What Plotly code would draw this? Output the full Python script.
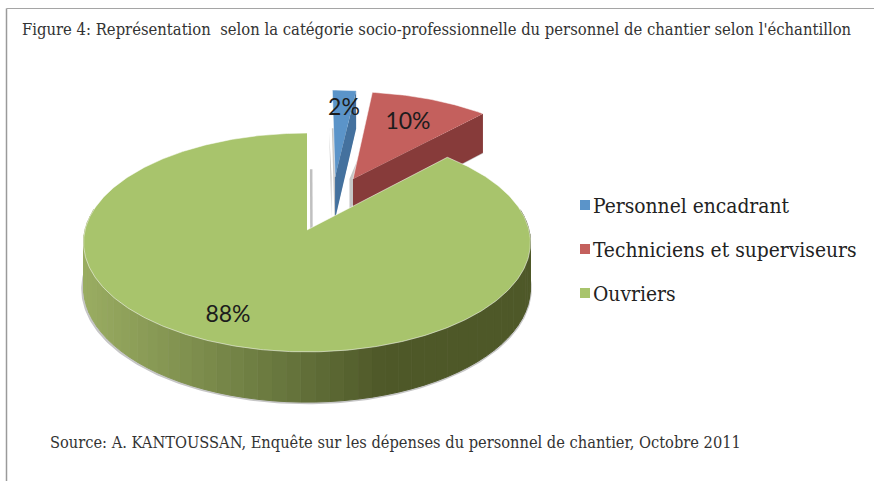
import numpy as np
import plotly.graph_objects as go

categories = ["Personnel encadrant", "Techniciens et superviseurs", "Ouvriers"]
values = [2, 10, 88]
top_colors = ["#5b94c9", "#c4605d", "#a8c46c"]
wall_colors = ["#44719e", "#873b3a", None]
explode_uv = [(0.134, 0.52), (0.219, 0.499), (0.0, 0.0)]
label_xy = [(344, 109), (408, 123), (228, 316)]
legend_y = [205, 249, 293]

title = "Figure 4: Représentation  selon la catégorie socio-professionnelle du personnel de chantier selon l'échantillon"
source = "Source: A. KANTOUSSAN, Enquête sur les dépenses du personnel de chantier, Octobre 2011"

# projection of the pie disk onto the picture
CX, CY, AX, BY, K, H = 307.0, 230.0, 222.0, 108.0, 0.114, 44.5


def project(u, v, base=False):
    u, v = np.asarray(u, float), np.asarray(v, float)
    s = 1 / (1 + K * v)
    return CX + AX * u * s, CY - BY * v * s + (H * s if base else 0)


def mix(c1, c2, t):
    return "rgb(%d,%d,%d)" % tuple(a + (b - a) * t for a, b in zip(c1, c2))


def wall_color(x):
    stops_x = [84, 270, 385, 530]
    stops = [(154, 173, 98), (107, 122, 64), (78, 88, 40), (78, 88, 40)]
    for i in range(3):
        if x <= stops_x[i + 1]:
            return mix(stops[i], stops[i + 1], (max(x, 84) - stops_x[i]) / (stops_x[i + 1] - stops_x[i]))
    return mix(stops[-1], stops[-1], 0)


def poly(x, y, color, line=None, width=0):
    return go.Scatter(
        x=list(x), y=list(y), mode="lines", fill="toself", fillcolor=color,
        line=dict(color=line or color, width=width), hoverinfo="skip", showlegend=False,
    )


fig = go.Figure()

fractions = np.cumsum([0] + values) / sum(values)
wedges = []
for i in range(3):
    a = np.linspace(fractions[i], fractions[i + 1], max(4, int(values[i] * 4))) * 2 * np.pi
    wedges.append(a)

# soft ground shadows
for i, a in enumerate(wedges):
    ou, ov = explode_uv[i]
    r = 1.008
    u = np.r_[ou, ou + r * np.sin(a)]
    v = np.r_[ov, ov + r * np.cos(a)]
    x, y = project(u, v, base=True)
    fig.add_trace(poly(x - 0.5, y + 1, "#c6c6c6"))
    if i < 2:
        x2, y2 = project(u - 0.012, v)
        xb, yb = project(u - 0.012, v, base=True)
        fig.add_trace(poly(np.r_[x2[1:2], xb[1:2], xb[0:1], x2[0:1]] - 1,
                           np.r_[y2[1:2] + 40, yb[1:2], yb[0:1], y2[0:1]], "#c6c6c6"))
sx, sy = project([0.02, 0.02], [0.0, 0.6])
fig.add_trace(go.Scatter(x=sx, y=sy, mode="lines", line=dict(color="#c0c0c0", width=2.5),
                         hoverinfo="skip", showlegend=False))

# exploded wedges: radial wall then top
for i in range(2):
    ou, ov = explode_uv[i]
    a = wedges[i]
    tipu, tipv = ou + np.sin(a[-1]), ov + np.cos(a[-1])
    xt, yt = project([ou, tipu], [ov, tipv])
    xb, yb = project([ou, tipu], [ov, tipv], base=True)
    fig.add_trace(poly(np.r_[xt, xb[::-1]], np.r_[yt, yb[::-1]], wall_colors[i]))
    x, y = project(np.r_[ou, ou + np.sin(a)], np.r_[ov, ov + np.cos(a)])
    fig.add_trace(poly(x, y, top_colors[i], "rgba(255,255,255,0.75)", 0.7))

# big wedge: outer wall as shaded bands, then top
a = wedges[2]
edge = np.linspace(a[0], a[-1], 480)
front = edge[np.cos(edge) < 0.2]
band = 5
for j in range(0, len(front) - 1, band):
    seg = front[j:j + band + 1]
    xt, yt = project(np.sin(seg), np.cos(seg))
    xb, yb = project(np.sin(seg), np.cos(seg), base=True)
    c = wall_color(float(np.mean(xt)))
    fig.add_trace(poly(np.r_[xt, xb[::-1]], np.r_[yt, yb[::-1]], c, c, 1))
x, y = project(np.r_[0, np.sin(edge)], np.r_[0, np.cos(edge)])
fig.add_trace(poly(x, y, top_colors[2], "rgba(255,255,255,0.75)", 0.7))

# percentage labels, computed from the values
total = sum(values)
lx, ly = zip(*label_xy)
fig.add_trace(go.Scatter(
    x=lx, y=ly, mode="text", text=[f"{round(100 * v / total)}%" for v in values],
    textfont=dict(family="Lato", size=23, color="#1c1c1c"), hoverinfo="skip", showlegend=False,
))

# key
for name, color, yy in zip(categories, top_colors, legend_y):
    fig.add_trace(go.Scatter(
        x=[585], y=[yy], mode="markers",
        marker=dict(symbol="square", size=10, color=color),
        hoverinfo="skip", showlegend=False,
    ))
    fig.add_trace(go.Scatter(
        x=[593], y=[yy + 2.5], mode="text", text=[name], textposition="middle right",
        textfont=dict(family="DejaVu Serif Condensed", size=20.8, color="#222222"),
        hoverinfo="skip", showlegend=False,
    ))

fig.add_annotation(x=20, y=29, text=title, showarrow=False, xanchor="left", yanchor="middle",
                   font=dict(family="DejaVu Serif Condensed", size=16.48, color="#333333"))
fig.add_annotation(x=48, y=442, text=source, showarrow=False, xanchor="left", yanchor="middle",
                   font=dict(family="DejaVu Serif Condensed", size=16.28, color="#333333"))

# frame
fig.add_shape(type="line", x0=6.5, x1=6.5, y0=8.5, y1=481, line=dict(color="#9a9a9a", width=1.5))
fig.add_shape(type="line", x0=6.5, x1=874, y0=8.5, y1=8.5, line=dict(color="#a5a5a5", width=1))

fig.update_layout(
    width=874, height=481, autosize=False, margin=dict(l=0, r=0, t=0, b=0),
    paper_bgcolor="white", plot_bgcolor="white", showlegend=False,
    xaxis=dict(range=[0, 874], visible=False, fixedrange=True),
    yaxis=dict(range=[481, 0], visible=False, fixedrange=True),
)
fig.write_html("out.html", config=dict(displayModeBar=False),
               post_script="document.body.style.margin='0';document.body.style.overflow='hidden';")
